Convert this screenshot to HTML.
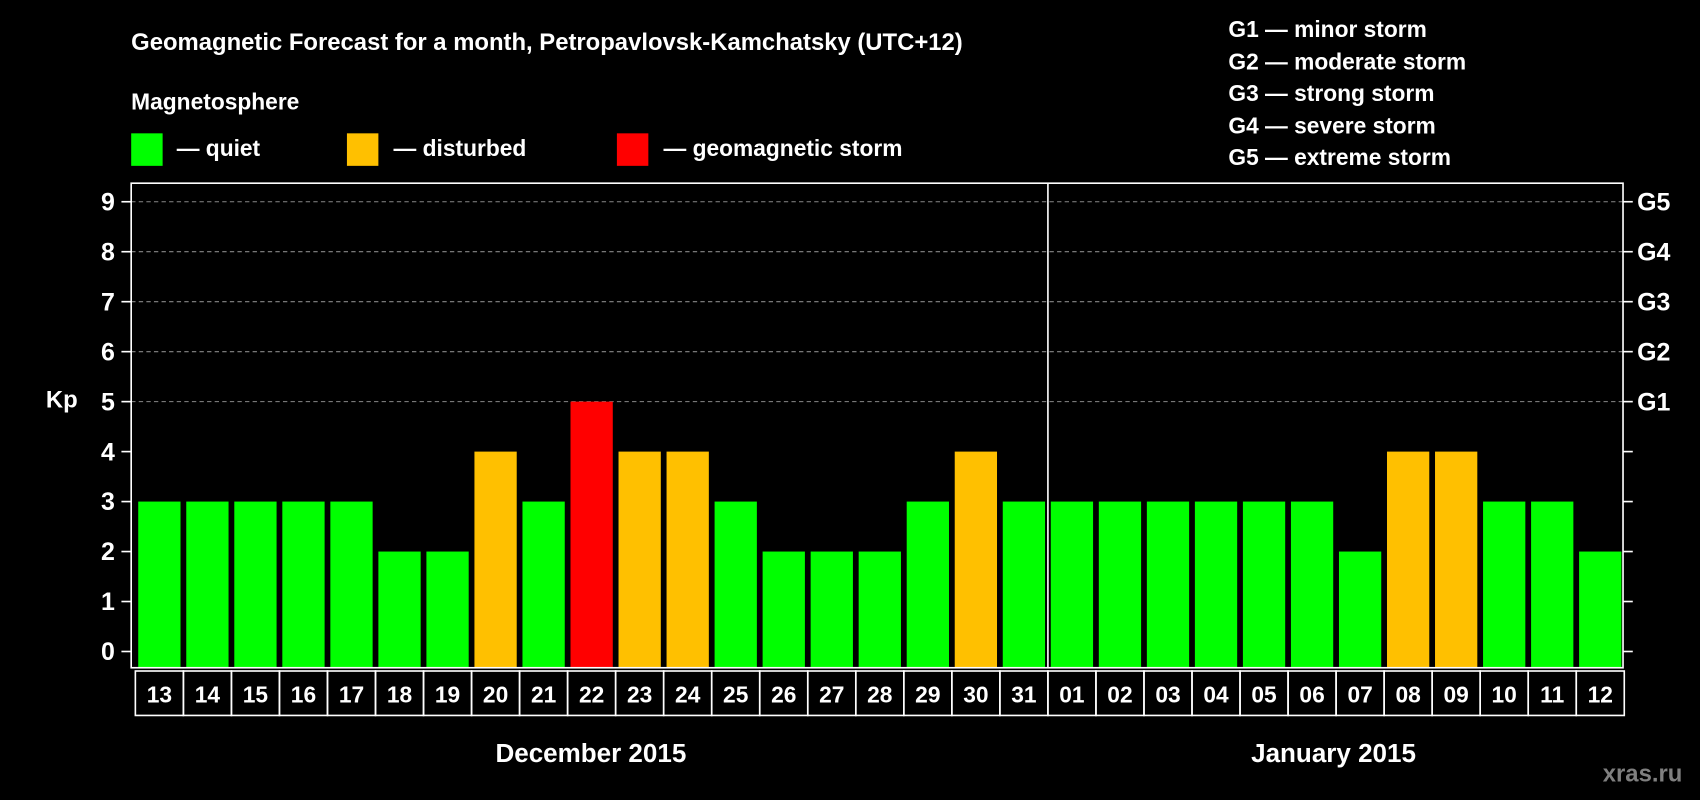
<!DOCTYPE html>
<html><head><meta charset="utf-8"><style>
html,body{margin:0;padding:0;background:#000;width:1700px;height:800px;overflow:hidden}
svg{display:block;font-family:"Liberation Sans",Arial,sans-serif;font-weight:bold}
</style></head><body>
<svg id="c" width="1700" height="800" viewBox="0 0 1568 738" preserveAspectRatio="none">
<rect width="1568" height="738" fill="#000"/>
<text x="121" y="46" font-size="22" fill="#fff">Geomagnetic Forecast for a month, Petropavlovsk-Kamchatsky (UTC+12)</text>
<text x="121" y="101" font-size="21" fill="#fff">Magnetosphere</text>
<g><rect x="121" y="123" width="29" height="30" fill="#00ff00"/><text x="163" y="144" font-size="21" fill="#fff">— quiet</text></g>
<g><rect x="320" y="123" width="29" height="30" fill="#ffc000"/><text x="363" y="144" font-size="21" fill="#fff">— disturbed</text></g>
<g><rect x="569" y="123" width="29" height="30" fill="#ff0000"/><text x="612" y="144" font-size="21" fill="#fff">— geomagnetic storm</text></g>
<g font-size="21" fill="#fff">
<text x="1133" y="34">G1 — minor storm</text>
<text x="1133" y="64">G2 — moderate storm</text>
<text x="1133" y="93">G3 — strong storm</text>
<text x="1133" y="123">G4 — severe storm</text>
<text x="1133" y="152">G5 — extreme storm</text>
</g>
<text x="57" y="376" font-size="22" fill="#fff" text-anchor="middle">Kp</text>
<g id="grid"></g><g id="bars"></g><g id="axes"></g>
<text x="545" y="703" font-size="24" fill="#fff" text-anchor="middle">December 2015</text>
<text x="1230" y="703" font-size="24" fill="#fff" text-anchor="middle">January 2015</text>
<text x="1515" y="721" font-size="22" fill="#7f7f7f" text-anchor="middle">xras.ru</text>
</svg>
<script>
const days=["13","14","15","16","17","18","19","20","21","22","23","24","25","26","27","28","29","30","31","01","02","03","04","05","06","07","08","09","10","11","12"];
const kp=[3,3,3,3,3,2,2,4,3,5,4,4,3,2,2,2,3,4,3,3,3,3,3,3,3,2,4,4,3,3,2];
const yTicks=[0,1,2,3,4,5,6,7,8,9];
const gLabels=["G1","G2","G3","G4","G5"];
const NS="http://www.w3.org/2000/svg";
const L=121,R=1497,T=169,B=616,Y0=601,UNIT=46.1,X0=147,STEP=44.3,BW=39;
const y=v=>Y0-v*UNIT, x=i=>X0+i*STEP;
function mk(t,a,p){const e=document.createElementNS(NS,t);for(const k in a)e.setAttribute(k,a[k]);p.appendChild(e);return e;}
const grid=document.getElementById('grid'),bars=document.getElementById('bars'),axes=document.getElementById('axes');
yTicks.forEach(v=>{
  if(v>=5){const g=mk('line',{x1:L,x2:R,y1:y(v),y2:y(v),stroke:'#888','stroke-dasharray':'4,3','stroke-width':1},grid);
  
  }
  const tl=mk('line',{x1:L-9,x2:L,y1:y(v),y2:y(v),stroke:'#fff','stroke-width':1.5},axes);
  
  
  const tr=mk('line',{x1:R,x2:R+9,y1:y(v),y2:y(v),stroke:'#fff','stroke-width':1.5},axes);
  
  
  const t=mk('text',{x:106,y:y(v)+8,'font-size':23,fill:'#fff','text-anchor':'end'},axes);t.textContent=v;
  
  
  if(v>=5){const g=mk('text',{x:1510,y:y(v)+8,'font-size':23,fill:'#fff'},axes);g.textContent=gLabels[v-5];
  
  }
});
kp.forEach((v,i)=>{
  const col=v>=5?'#ff0000':v>=4?'#ffc000':'#00ff00';
  const b=mk('rect',{x:x(i)-BW/2,y:y(v),width:BW,height:B-y(v),fill:col},bars);
  
  
  const bx=mk('rect',{x:x(i)-STEP/2,y:619,width:STEP,height:41,fill:'none',stroke:'#fff','stroke-width':1.5},axes);
  
  
  const t=mk('text',{x:x(i),y:648,'font-size':21,fill:'#fff','text-anchor':'middle'},axes);t.textContent=days[i];
  
  
});
const fr=mk('rect',{x:L,y:T,width:R-L,height:B-T,fill:'none',stroke:'#fff','stroke-width':1.5},axes);


const sepIdx=days.indexOf("01");
const sp=mk('line',{x1:x(sepIdx)-STEP/2,x2:x(sepIdx)-STEP/2,y1:T,y2:B,stroke:'#fff','stroke-width':1.5},axes);


</script>
</body></html>
